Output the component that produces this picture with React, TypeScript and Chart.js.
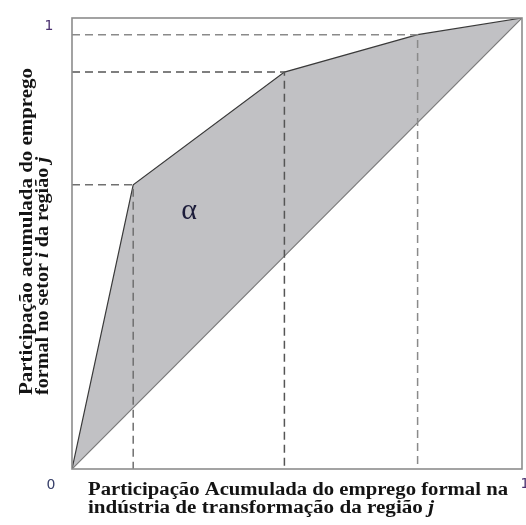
import React, { useEffect, useRef } from "react";
import { Chart, registerables } from "chart.js";

Chart.register(...registerables);

// Lorenz-type curve (cumulative shares)
const curveX = [0, 0.136, 0.472, 0.768, 1];
const curveY = [0, 0.63, 0.88, 0.963, 1];
const diagonalX = [0, 1];
const diagonalY = [0, 1];
// indices of curve points that receive dashed guide lines
const guideIdx = [1, 2, 3];
const guideColors = ["#707070", "#555555", "#8a8a8a"];

const yTitle1 = [{ t: "Participação acumulada do emprego", it: false }];
const yTitle2 = [
  { t: "formal no setor ", it: false },
  { t: "i", it: true },
  { t: " da região ", it: false },
  { t: "j", it: true },
];
const xTitle1 = [{ t: "Participação Acumulada do emprego formal na", it: false }];
const xTitle2 = [
  { t: "indústria de transformação da região ", it: false },
  { t: "j", it: true },
];
const tickLabels = { zero: "0", one: "1" };
const alphaLabel = { text: "α", x: 0.26, y: 0.572 };

type Seg = { t: string; it: boolean };

function font(it: boolean, size: number) {
  return `${it ? "italic " : ""}bold ${size}px "Liberation Serif", "DejaVu Serif", serif`;
}

function drawSegs(ctx: CanvasRenderingContext2D, segs: Seg[], size: number, targetW: number) {
  let total = 0;
  for (const s of segs) {
    ctx.font = font(s.it, size);
    total += ctx.measureText(s.t).width;
  }
  const sx = targetW / total;
  ctx.save();
  ctx.scale(sx, 1);
  let x = 0;
  for (const s of segs) {
    ctx.font = font(s.it, size);
    ctx.fillText(s.t, x, 0);
    x += ctx.measureText(s.t).width;
  }
  ctx.restore();
}

const decorPlugin = {
  id: "decor",
  afterDatasetsDraw(chart: any) {
    const ctx: CanvasRenderingContext2D = chart.ctx;
    const { left, top, right, bottom } = chart.chartArea;
    const xs = chart.scales.x;
    const ys = chart.scales.y;
    ctx.save();
    // frame
    ctx.strokeStyle = "#8c8c8c";
    ctx.lineWidth = 1.6;
    ctx.strokeRect(left, top, right - left, bottom - top);

    // alpha
    ctx.fillStyle = "#1c1c3a";
    ctx.font = `30px "Liberation Serif", "DejaVu Serif", serif`;
    ctx.textAlign = "center";
    ctx.textBaseline = "middle";
    ctx.fillText(alphaLabel.text, xs.getPixelForValue(alphaLabel.x), ys.getPixelForValue(alphaLabel.y));

    // tick labels
    ctx.font = `14px "DejaVu Sans", sans-serif`;
    ctx.fillStyle = "#4a3070";
    ctx.fillText(tickLabels.one, 49, ys.getPixelForValue(1) + 8);
    ctx.fillStyle = "#38406a";
    ctx.fillText(tickLabels.zero, 51, 485);
    ctx.fillStyle = "#4a3070";
    ctx.fillText(tickLabels.one, 525, 484);

    // titles
    ctx.fillStyle = "#141414";
    ctx.textAlign = "left";
    ctx.textBaseline = "alphabetic";
    ctx.save();
    ctx.translate(88, 495);
    drawSegs(ctx, xTitle1, 18, 420);
    ctx.restore();
    ctx.save();
    ctx.translate(88, 513);
    drawSegs(ctx, xTitle2, 18, 346);
    ctx.restore();

    ctx.save();
    ctx.translate(32, 395);
    ctx.rotate(-Math.PI / 2);
    drawSegs(ctx, yTitle1, 18, 327);
    ctx.restore();
    ctx.save();
    ctx.translate(48, 395);
    ctx.rotate(-Math.PI / 2);
    drawSegs(ctx, yTitle2, 18, 238);
    ctx.restore();

    ctx.restore();
  },
};

export default function App() {
  const ref = useRef<HTMLCanvasElement | null>(null);
  useEffect(() => {
    if (!ref.current) return;
    const guideSets = guideIdx.map((i, k) => ({
      type: "line" as const,
      data: [
        { x: 0, y: curveY[i] },
        { x: curveX[i], y: curveY[i] },
        { x: curveX[i], y: 0 },
      ],
      borderColor: guideColors[k],
      borderWidth: 1.5,
      borderDash: [8, 5],
      pointRadius: 0,
      fill: false,
      tension: 0,
    }));
    const chart = new Chart(ref.current, {
      type: "line",
      data: {
        datasets: [
          ...guideSets,
          {
            data: curveX.map((x, i) => ({ x, y: curveY[i] })),
            borderColor: "#3a3a3a",
            borderWidth: 1.2,
            pointRadius: 0,
            backgroundColor: "#c1c1c4",
            fill: { target: guideSets.length + 1, above: "#c1c1c4", below: "#c1c1c4" },
            tension: 0,
          },
          {
            data: diagonalX.map((x, i) => ({ x, y: diagonalY[i] })),
            borderColor: "#7a7a7a",
            borderWidth: 1.2,
            pointRadius: 0,
            fill: false,
            tension: 0,
          },
        ] as any,
      },
      options: {
        animation: false,
        responsive: true,
        maintainAspectRatio: false,
        devicePixelRatio: 1,
        layout: { padding: { left: 72, top: 18, right: 4, bottom: 56 } },
        scales: {
          x: { type: "linear", min: 0, max: 1, display: false },
          y: { type: "linear", min: 0, max: 1, display: false },
        },
        plugins: {
          legend: { display: false },
          tooltip: { enabled: false },
          filler: { drawTime: "beforeDatasetsDraw" },
        } as any,
      },
      plugins: [decorPlugin],
    });
    return () => chart.destroy();
  }, []);
  return (
    <div style={{ position: "fixed", left: 0, top: 0, width: 526, height: 525, background: "#fff" }}>
      <canvas ref={ref} />
    </div>
  );
}
